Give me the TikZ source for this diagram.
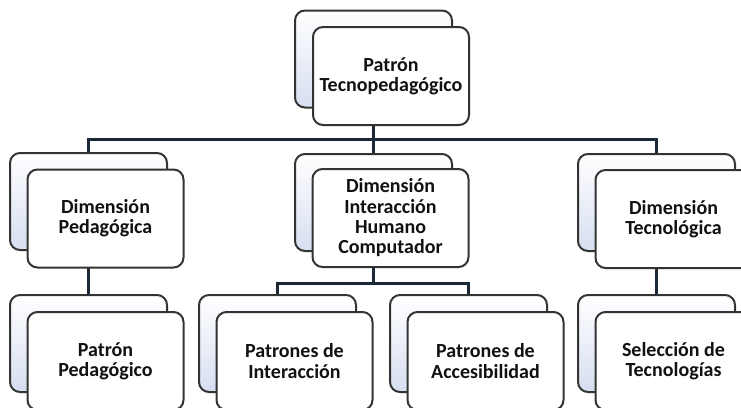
\documentclass[tikz,border=0pt]{standalone}
\usepackage{fontspec}
\setmainfont{Carlito}
\definecolor{boxline}{HTML}{333333}
\definecolor{navy}{HTML}{1B2838}
\definecolor{backblue}{HTML}{D6DEF0}
\definecolor{txt}{HTML}{111111}
\begin{document}
\begin{tikzpicture}[x=1pt,y=-1pt,
  back/.style={draw=boxline, line width=2pt, rounded corners=10pt,
    top color=white, bottom color=backblue,
    minimum width=157pt, minimum height=97pt, inner sep=0pt},
  front/.style={draw=boxline, line width=2pt, rounded corners=10pt,
    fill=white,
    minimum width=156pt, minimum height=98pt, inner sep=0pt,
    align=center, text=txt, font=\bfseries\fontsize{20}{20.3}\selectfont},
  conn/.style={draw=navy, line width=3pt}]
\useasboundingbox (0,0) rectangle (741,407);
\clip (0,0) rectangle (741,407);
% back boxes
\node[back] (bT)  at (373.5,59)   {};
\node[back] (bL1) at (88.5,201.5) {};
\node[back] (bM1) at (373.5,202.5) {};
\node[back] (bR1) at (656.5,202.5) {};
\node[back] (bL2) at (88.5,343.5) {};
\node[back] (bMa) at (277.5,343.5) {};
\node[back] (bMb) at (468.5,343.5) {};
\node[back] (bR2) at (656.5,343.5) {};
% connectors
\coordinate (busT) at (373.5,139);
\coordinate (busM) at (373.5,283);
\draw[conn] (bT.south) -- (busT);
\draw[conn] (busT) -| (bL1.north);
\draw[conn] (busT) -| (bR1.north);
\draw[conn] (busT) -- (bM1.north);
\draw[conn] (bL1.south) -- (bL2.north);
\draw[conn] (bR1.south) -- (bR2.north);
\draw[conn] (bM1.south) -- (busM);
\draw[conn] (busM) -| (bMa.north);
\draw[conn] (busM) -| (bMb.north);
% front boxes
\node[front] (fT)  at (391,76)    {Patrón\\Tecnopedagógico};
\node[front] (fL1) at (105.5,218.5) {Dimensión\\Pedagógica};
\node[front] (fM1) at (390.5,218) {Dimensión\\Interacción\\Humano\\Computador};
\node[front] (fR1) at (673.5,219) {Dimensión\\Tecnológica};
\node[front] (fL2) at (105.5,361) {Patrón\\Pedagógico};
\node[front] (fMa) at (294.5,361) {Patrones de\\Interacción};
\node[front] (fMb) at (485.5,361) {Patrones de\\Accesibilidad};
\node[front] (fR2) at (673.5,361) {Selección de\\Tecnologías};
\end{tikzpicture}
\end{document}
